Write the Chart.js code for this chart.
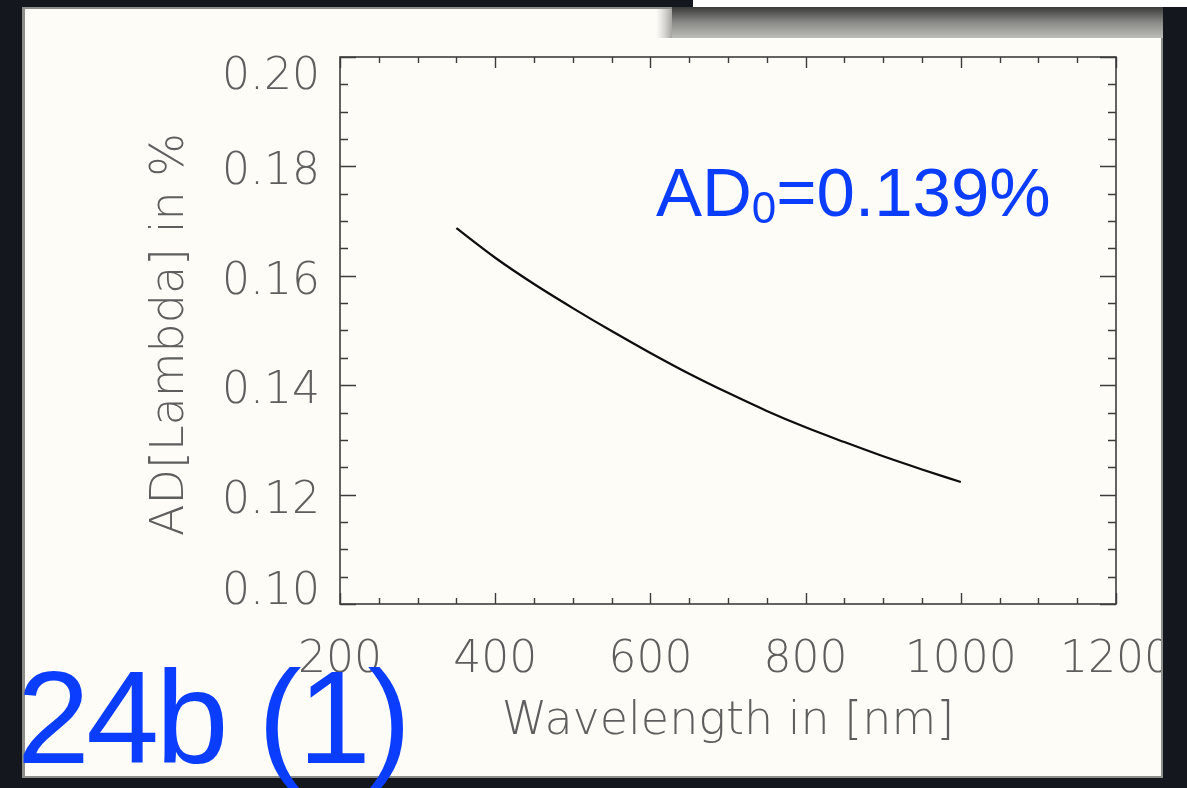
<!DOCTYPE html>
<html>
<head>
<meta charset="utf-8">
<title>AD[Lambda] vs Wavelength</title>
<script src="https://cdn.jsdelivr.net/npm/chart.js@4.4.1/dist/chart.umd.min.js"></script>
<style>
  html, body { margin: 0; padding: 0; background: #15171e; }
  #wrap { width: 1187px; height: 788px; }
  canvas { display: block; }
</style>
</head>
<body>
<div id="wrap"><canvas id="chart" width="1187" height="788"></canvas></div>
<script>
// Wavelength grid (nm) and the dispersion curve AD(lambda) in %
const wavelengths = [350, 400, 450, 500, 550, 600, 650, 700, 750, 800, 850, 900, 950, 1000];
const adValues = [0.1687, 0.1633, 0.1585, 0.1541, 0.1499, 0.1459, 0.1421, 0.1386, 0.1353, 0.1323, 0.1296, 0.1270, 0.1246, 0.1223];

// Axis ticks
const xTickValues = [200, 400, 600, 800, 1000, 1200];
const xTickLabels = ['200', '400', '600', '800', '1000', '1200'];
const yTickValues = [0.10, 0.12, 0.14, 0.16, 0.18, 0.20];
const yTickLabels = ['0.10', '0.12', '0.14', '0.16', '0.18', '0.20'];
const xMinorStep = 50;
const yMinorStep = 0.005;

// Text
const xTitle = 'Wavelength in [nm]';
const yTitle = 'AD[Lambda] in %';
const annotationMain = 'AD';
const annotationSub = '0';
const annotationRest = '=0.139%';
const slideLabel = '24b (1)';

const BLUE = '#0b3dff';
const AXIS_FONT = '200 44px "DejaVu Sans ExtraLight", "DejaVu Sans", sans-serif';
const TITLE_FONT = '200 46px "DejaVu Sans ExtraLight", "DejaVu Sans", sans-serif';
const LABEL_GRAY = '#5e5e5e';

// Slide background: dark frame, cream panel, white box with its drop shadow
const backdrop = {
  id: 'backdrop',
  beforeDraw(chart) {
    const ctx = chart.ctx;
    const W = chart.width, H = chart.height;
    ctx.save();
    ctx.fillStyle = '#15171e';
    ctx.fillRect(0, 0, W, H);
    // panel bevel and body
    ctx.fillStyle = '#8d8d8a';
    ctx.fillRect(22, 7, 1141, 771);
    ctx.fillStyle = '#fdfcf7';
    ctx.fillRect(25, 9, 1136, 767);
    // drop shadow under the white box
    const g = ctx.createLinearGradient(0, 7, 0, 38);
    g.addColorStop(0, '#3a3a3a');
    g.addColorStop(0.5, '#8a8a88');
    g.addColorStop(1, '#bcbcb8');
    ctx.fillStyle = g;
    ctx.fillRect(672, 7, 500, 31);
    const gl = ctx.createLinearGradient(656, 0, 674, 0);
    gl.addColorStop(0, 'rgba(188,188,184,0)');
    gl.addColorStop(1, 'rgba(150,150,148,1)');
    ctx.fillStyle = gl;
    ctx.fillRect(656, 9, 16, 29);
    // white box at top
    ctx.fillStyle = '#ffffff';
    ctx.fillRect(693, 0, 494, 7);
    ctx.restore();
  }
};

// Plot frame with inward major/minor ticks on all four sides
const frame = {
  id: 'frame',
  beforeDatasetsDraw(chart) {
    const ctx = chart.ctx;
    const a = chart.chartArea;
    const xs = chart.scales.x, ys = chart.scales.y;
    ctx.save();
    ctx.strokeStyle = '#3c3c3c';
    ctx.lineWidth = 1.6;
    ctx.strokeRect(a.left, a.top, a.right - a.left, a.bottom - a.top);
    ctx.lineWidth = 1.4;
    ctx.beginPath();
    for (let v = xs.min; v <= xs.max + 1e-9; v += xMinorStep) {
      const px = Math.round(xs.getPixelForValue(v)) + 0.5;
      const major = xTickValues.some(t => Math.abs(t - v) < 1e-6);
      const len = major ? 11 : 6;
      ctx.moveTo(px, a.bottom); ctx.lineTo(px, a.bottom - len);
      ctx.moveTo(px, a.top); ctx.lineTo(px, a.top + len);
    }
    for (let i = 0; ; i++) {
      const v = ys.min + i * yMinorStep;
      if (v > ys.max + 1e-9) break;
      const py = Math.round(ys.getPixelForValue(v)) + 0.5;
      const major = yTickValues.some(t => Math.abs(t - v) < 1e-6);
      const len = major ? 16 : 8;
      ctx.moveTo(a.left, py); ctx.lineTo(a.left + len, py);
      ctx.moveTo(a.right, py); ctx.lineTo(a.right - len, py);
    }
    ctx.stroke();
    ctx.restore();
  }
};

// Tick labels, axis titles, annotation and slide number
const texts = {
  id: 'texts',
  afterDraw(chart) {
    const ctx = chart.ctx;
    const a = chart.chartArea;
    const xs = chart.scales.x, ys = chart.scales.y;
    ctx.save();
    ctx.fillStyle = LABEL_GRAY;
    ctx.font = AXIS_FONT;

    // x tick labels
    ctx.textAlign = 'center';
    ctx.textBaseline = 'alphabetic';
    xTickValues.forEach((v, i) => {
      ctx.fillText(xTickLabels[i], xs.getPixelForValue(v), a.bottom + 68);
    });

    // y tick labels, kept inside the frame's height at both ends
    ctx.textAlign = 'right';
    const capH = 32;
    yTickValues.forEach((v, i) => {
      const py = ys.getPixelForValue(v) + 2;
      let base = py + capH / 2;
      if (base - capH < a.top) base = a.top + capH;
      if (base > a.bottom) base = a.bottom;
      ctx.fillText(yTickLabels[i], a.left - 20, base);
    });

    // axis titles
    ctx.font = TITLE_FONT;
    ctx.textAlign = 'center';
    ctx.fillText(xTitle, (a.left + a.right) / 2, a.bottom + 130);
    ctx.save();
    ctx.translate(183, (a.top + a.bottom) / 2 + 4);
    ctx.rotate(-Math.PI / 2);
    ctx.fillText(yTitle, 0, 0);
    ctx.restore();

    // AD0 annotation
    ctx.fillStyle = BLUE;
    ctx.textAlign = 'left';
    ctx.font = '69px "Liberation Sans", Arial, sans-serif';
    let x = 656;
    ctx.fillText(annotationMain, x, 216);
    x += ctx.measureText(annotationMain).width;
    ctx.font = '44px "Liberation Sans", Arial, sans-serif';
    ctx.fillText(annotationSub, x, 223);
    x += ctx.measureText(annotationSub).width;
    ctx.font = '69px "Liberation Sans", Arial, sans-serif';
    ctx.fillText(annotationRest, x, 216);

    // dark frame edges overlap the panel content
    ctx.fillStyle = '#15171e';
    ctx.fillRect(1163, 7, 24, 781);
    ctx.fillRect(0, 778, 1187, 10);
    ctx.fillStyle = '#8d8d8a';
    ctx.fillRect(1161, 38, 2, 740);
    ctx.fillRect(22, 776, 1141, 2);

    // slide number
    ctx.fillStyle = BLUE;
    ctx.font = '131px "Liberation Sans", Arial, sans-serif';
    ctx.letterSpacing = '-3.5px';
    ctx.fillText(slideLabel, 17, 763);
    ctx.letterSpacing = '0px';
    ctx.restore();
  }
};

const points = wavelengths.map((w, i) => ({ x: w, y: adValues[i] }));

new Chart(document.getElementById('chart'), {
  type: 'line',
  data: {
    datasets: [{
      data: points,
      borderColor: '#0d0d0d',
      borderWidth: 2.2,
      pointRadius: 0,
      fill: false,
      cubicInterpolationMode: 'monotone'
    }]
  },
  options: {
    responsive: false,
    devicePixelRatio: 1,
    animation: false,
    layout: { padding: { left: 340, top: 57, right: 71, bottom: 184 } },
    plugins: { legend: { display: false }, tooltip: { enabled: false } },
    scales: {
      x: { type: 'linear', min: 200, max: 1200, display: false },
      y: { type: 'linear', min: 0.10, max: 0.20, display: false }
    }
  },
  plugins: [backdrop, frame, texts]
});
</script>
</body>
</html>
